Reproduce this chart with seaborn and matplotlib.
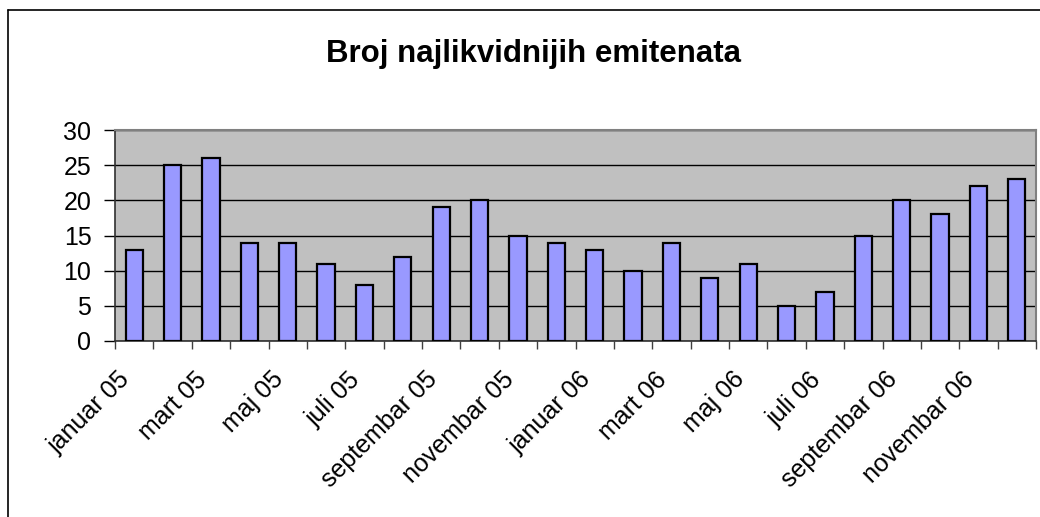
import matplotlib
matplotlib.use("Agg")
import matplotlib.pyplot as plt
import matplotlib.transforms as mtransforms
from matplotlib.lines import Line2D
import pandas as pd
import seaborn as sns

months = ["januar", "februar", "mart", "april", "maj", "juni", "juli", "avgust",
          "septembar", "oktobar", "novembar", "decembar"]
years = ["05", "06"]
categories = [f"{m} {y}" for y in years for m in months]
values = [13, 25, 26, 14, 14, 11, 8, 12, 19, 20, 15, 14,
          13, 10, 14, 9, 11, 5, 7, 15, 20, 18, 22, 23]
title = "Broj najlikvidnijih emitenata"

df = pd.DataFrame({"mjesec": categories, "broj": values})

sns.set_style("white")
plt.rcParams["font.family"] = ["Liberation Sans", "DejaVu Sans"]
plt.rcParams["text.color"] = "black"
plt.rcParams["xtick.color"] = "black"
plt.rcParams["ytick.color"] = "black"

fig = plt.figure(figsize=(10.4, 5.17), dpi=100)
ax = fig.add_axes([115 / 1040, 1 - 341 / 517, (1036 - 115) / 1040, (341 - 130) / 517])
ax.set_facecolor("#C0C0C0")

sns.barplot(data=df, x="mjesec", y="broj", order=categories, color="#9999FF",
            edgecolor="black", linewidth=1.6, width=0.45, saturation=1, ax=ax, zorder=3)

ax.set_xlim(-0.5, len(categories) - 0.5)
ax.set_ylim(0, 30)
ax.set_yticks(range(0, 31, 5))
ax.yaxis.grid(True, color="black", linewidth=1.0, zorder=0)
ax.set_axisbelow(True)
ax.set_xlabel("")
ax.set_ylabel("")

# ticks at category boundaries, labels on every second month
ax.set_xticks([i - 0.5 for i in range(len(categories) + 1)])
ax.set_xticklabels([])
ax.set_xticks(range(0, len(categories), 2), minor=True)
ax.set_xticklabels(categories[::2], minor=True, rotation=45, ha="right", va="center",
                   rotation_mode="anchor", fontsize=18)
ax.tick_params(axis="x", which="major", direction="out", length=6, width=1,
               color="#404040", bottom=True)
ax.tick_params(axis="x", which="minor", length=0, pad=25)
ax.tick_params(axis="y", direction="out", length=8, width=1, left=True,
               labelsize=18, pad=9)

shift = mtransforms.ScaledTranslation(-8 / 100, 0, fig.dpi_scale_trans)
for lab in ax.get_xticklabels(minor=True):
    lab.set_transform(lab.get_transform() + shift)

for side in ["top", "right"]:
    ax.spines[side].set_color("#808080")
    ax.spines[side].set_linewidth(1.5)
for side in ["left", "bottom"]:
    ax.spines[side].set_color("#303030")
    ax.spines[side].set_linewidth(1.2)

fig.text(534 / 1040, 1 - 62 / 517, title, ha="center", va="baseline",
         fontsize=22.5, fontweight="bold")

# outer chart frame (cut off on the right and bottom)
fig.add_artist(Line2D([8 / 1040, 8 / 1040], [0, 1 - 10 / 517], color="black", linewidth=1.2))
fig.add_artist(Line2D([8 / 1040, 1], [1 - 10 / 517, 1 - 10 / 517], color="black", linewidth=1.2))

fig.savefig("out.png", dpi=100)
plt.close(fig)
